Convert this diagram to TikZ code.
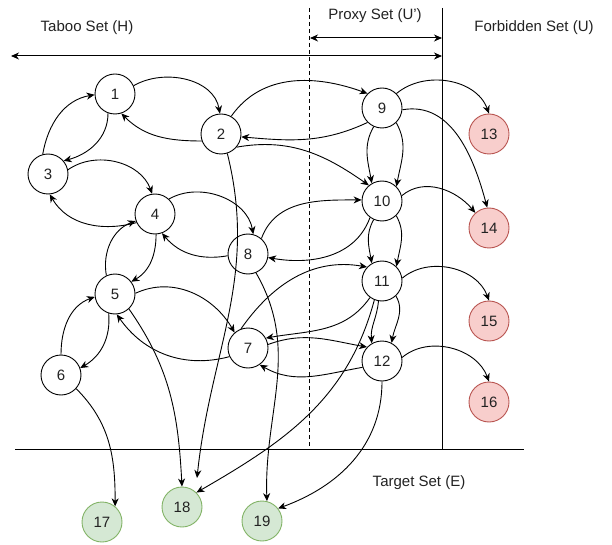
\documentclass[tikz,border=0pt]{standalone}
\usepackage{fontspec}
\setmainfont{Liberation Sans}
\usetikzlibrary{arrows.meta}
\definecolor{redfill}{HTML}{F8CECC}
\definecolor{redline}{HTML}{B85450}
\definecolor{greenfill}{HTML}{D5E8D4}
\definecolor{greenline}{HTML}{82B366}
\definecolor{txt}{HTML}{222222}
\tikzset{
  vtx/.style={circle, draw=black, fill=white, line width=0.9pt, minimum size=40pt, inner sep=0pt, font=\fontsize{15}{18}\selectfont, text=txt},
  forb/.style={vtx, draw=redline, fill=redfill},
  targ/.style={vtx, draw=greenline, fill=greenfill},
  arr/.style={line width=0.9pt, -{Stealth[length=8pt,width=7pt,inset=2.5pt]}},
  dbl/.style={line width=1pt, {Stealth[length=8pt,width=7pt,inset=2.5pt]}-{Stealth[length=8pt,width=7pt,inset=2.5pt]}},
  setlabel/.style={font=\fontsize{15}{18}\selectfont, text=txt, inner sep=0pt},
  border/.style={line width=1pt}
}
\begin{document}
\begin{tikzpicture}[x=1pt,y=1pt]
\useasboundingbox (0,0) rectangle (612,544);
% frame lines
\coordinate (hl) at (15,95);
\coordinate (hr) at (524,95);
\coordinate (vt) at (442,536);
\coordinate (vb) at (442,95);
\coordinate (dt) at (309,536);
\coordinate (db) at (309,95);
\coordinate (a1l) at (11,488);
\coordinate (a1r) at (442,488);
\coordinate (a2l) at (310,506);
\coordinate (a2r) at (442,506);
\draw[border] (hl) -- (hr);
\draw[border] (vt) -- (vb);
\draw[line width=0.8pt, dash pattern=on 4pt off 3pt] (dt) -- (db);
\draw[dbl] (a1l) -- (a1r);
\draw[dbl] (a2l) -- (a2r);
\node[setlabel] (lh) at (87,516) {Taboo Set (H)};
\node[setlabel] (lp) at (375,528) {Proxy Set (U')};
\node[setlabel] (lu) at (534,516) {Forbidden Set (U)};
\node[setlabel] (le) at (419,61) {Target Set (E)};
% nodes
\node[vtx] (n1) at (115,450) {1};
\node[vtx] (n2) at (221,410) {2};
\node[vtx] (n3) at (48,370) {3};
\node[vtx] (n4) at (155,330) {4};
\node[vtx] (n5) at (115,250) {5};
\node[vtx] (n6) at (61,169) {6};
\node[vtx] (n7) at (248,196) {7};
\node[vtx] (n8) at (248,290) {8};
\node[vtx] (n9) at (382,436) {9};
\node[vtx] (n10) at (382,343) {10};
\node[vtx] (n11) at (382,263) {11};
\node[vtx] (n12) at (382,183) {12};
\node[forb] (n13) at (489,410) {13};
\node[forb] (n14) at (489,316) {14};
\node[forb] (n15) at (489,223) {15};
\node[forb] (n16) at (489,142) {16};
\node[targ] (n17) at (102,22) {17};
\node[targ] (n18) at (182,37) {18};
\node[targ] (n19) at (262,23) {19};
\coordinate (e2) at (197,66);
% edges
\draw[arr] (n1.24) to[out=30,in=100] (n2.93);
\draw[arr] (n2.200) to[out=180,in=-45] (n1.-72);
\draw[arr] (n1.-110) to[out=-90,in=15] (n3.40);
\draw[arr] (n3.105) to[out=80,in=190] (n1.182);
\draw[arr] (n3.12) to[out=35,in=110] (n4.98);
\draw[arr] (n4.205) to[out=195,in=-60] (n3.-85);
\draw[arr] (n4.47) to[out=30,in=100] (n8.75);
\draw[arr] (n8.185) to[out=190,in=-50] (n4.-70);
\draw[arr] (n4.-87) to[out=-90,in=30] (n5.37);
\draw[arr] (n5.115) to[out=100,in=200] (n4.200);
\draw[arr] (n5.2) to[out=25,in=120] (n7.131);
\draw[arr] (n7.205) to[out=195,in=-55] (n5.-85);
\draw[arr] (n5.-108) to[out=-85,in=30] (n6.20);
\draw[arr] (n6.90) to[out=90,in=200] (n5.188);
\draw[arr] (n5.-47) to[out=-55,in=93] (n18.90);
\draw[arr] (n6.-42) to[out=-45,in=90] (n17.50);
\draw[arr] (n2.60) to[out=55,in=160] (n9.135);
\draw[arr] (n9.225) to[out=205,in=-5] (n2.-8);
\draw[arr] (n2.-40) to[out=10,in=145] (n10.130);
\draw[arr] (n2.-72) to[out=-76,in=84] (e2);
\draw[arr] (n8.49) to[out=70,in=180] (n10.177);
\draw[arr] (n10.234) to[out=250,in=-10] (n8.-10);
\draw[arr] (n8.-67) to[out=-60,in=92] (n19.76);
\draw[arr] (n9.-114) to[out=-120,in=100] (n10.120);
\draw[arr] (n9.-46) to[out=-60,in=80] (n10.45);
\draw[arr] (n10.-114) to[out=-120,in=100] (n11.120);
\draw[arr] (n10.-46) to[out=-60,in=80] (n11.45);
\draw[arr] (n11.-47) to[out=-60,in=80] (n12.62);
\draw[arr] (n11.-100) to[out=-95,in=95] (n12.120);
\draw[arr] (n11.-112) to[out=-105,in=30] (n18.45);
\draw[arr] (n11.234) to[out=235,in=10] (n7.29);
\draw[arr] (n7.110) to[out=55,in=170] (n11.137);
\draw[arr] (n7.10) to[out=20,in=170] (n12.137);
\draw[arr] (n12.198) to[out=190,in=-30] (n7.-55);
\draw[arr] (n12.-90) to[out=-90,in=20] (n19.38);
\draw[arr] (n9.45) to[out=40,in=110] (n13.90);
\draw[arr] (n9.-5) to[out=10,in=105] (n14.95);
\draw[arr] (n10.15) to[out=40,in=130] (n14.132);
\draw[arr] (n11.8) to[out=40,in=110] (n15.90);
\draw[arr] (n12.10) to[out=40,in=110] (n16.90);
\end{tikzpicture}
\end{document}
